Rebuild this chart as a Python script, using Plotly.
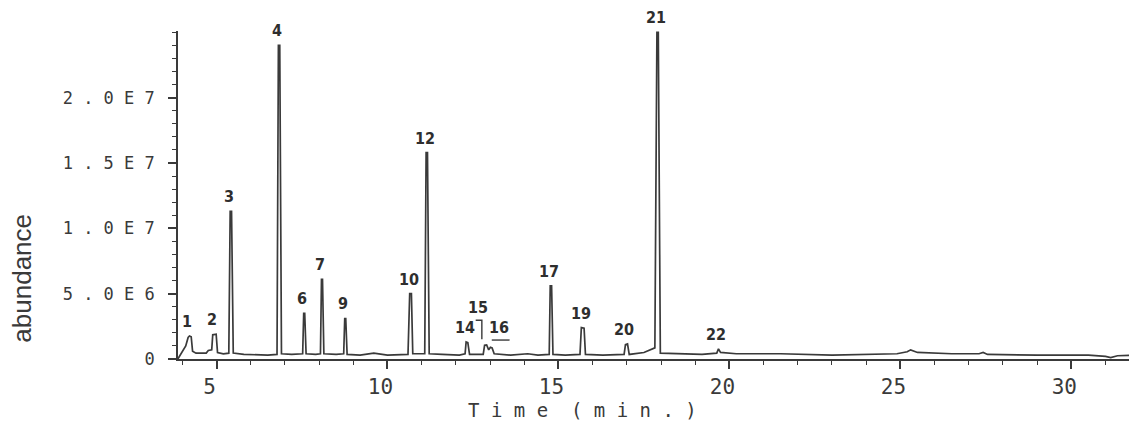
import plotly.graph_objects as go

# ---- data (time in min, abundance in units of 1E6) ----
time_min = [3.87, 4.10, 4.17, 4.21, 4.26, 4.30, 4.40, 4.70, 4.76, 4.86, 4.89, 4.99, 5.03,
            5.20, 5.36, 5.40, 5.44, 5.49, 5.80, 6.50, 6.77, 6.81, 6.85, 6.90, 7.20,
            7.52, 7.55, 7.58, 7.62, 7.90, 8.04, 8.07, 8.10, 8.14, 8.50, 8.72, 8.75,
            8.78, 8.82, 9.20, 9.60, 10.00, 10.60, 10.65, 10.70, 10.74, 11.09, 11.13,
            11.17, 11.22, 11.60, 12.10, 12.27, 12.30, 12.35, 12.40, 12.80, 12.84,
            12.90, 12.96, 13.01, 13.06, 13.12, 13.60, 14.10, 14.40, 14.73, 14.76,
            14.80, 14.84, 15.20, 15.63, 15.67, 15.75, 15.79, 16.30, 16.92, 16.96,
            17.02, 17.07, 17.50, 17.72, 17.82, 17.88, 17.92, 17.98, 18.40, 19.20,
            19.63, 19.68, 19.74, 20.20, 21.50, 23.00, 24.90, 25.20, 25.30, 25.50,
            26.50, 27.30, 27.42, 27.55, 29.00, 30.50, 31.00, 31.15, 31.35, 31.92]
abundance_e6 = [0.0, 1.0, 1.65, 1.76, 1.70, 0.60, 0.45, 0.45, 0.65, 0.70, 1.85, 1.90, 0.50,
                0.40, 0.45, 11.3, 11.3, 0.45, 0.35, 0.30, 0.35, 24.0, 24.0, 0.40, 0.35,
                0.40, 3.5, 3.5, 0.40, 0.35, 0.40, 6.1, 6.1, 0.40, 0.35, 0.40, 3.1,
                3.1, 0.35, 0.30, 0.45, 0.30, 0.35, 5.0, 5.0, 0.40, 0.40, 15.8,
                15.8, 0.40, 0.35, 0.30, 0.40, 1.30, 1.25, 0.35, 0.35, 1.05,
                1.07, 0.70, 0.90, 0.85, 0.40, 0.30, 0.40, 0.30, 0.35, 5.6,
                5.6, 0.35, 0.30, 0.35, 2.4, 2.35, 0.35, 0.30, 0.35, 1.10,
                1.15, 0.35, 0.50, 0.70, 0.85, 25.0, 25.0, 0.45, 0.40, 0.35,
                0.45, 0.77, 0.50, 0.40, 0.40, 0.30, 0.40, 0.55, 0.70, 0.50,
                0.40, 0.40, 0.50, 0.35, 0.30, 0.30, 0.20, 0.10, 0.25, 0.30]

peak_ids = ["1", "2", "3", "4", "6", "7", "9", "10", "12", "14", "15", "16",
            "17", "19", "20", "21", "22"]
peak_times = [4.21, 4.94, 5.42, 6.83, 7.56, 8.08, 8.76, 10.68, 11.15, 12.32, 12.88,
              13.05, 14.78, 15.71, 16.99, 17.90, 19.68]
peak_heights = [1.76, 1.90, 11.3, 24.0, 3.5, 6.1, 3.1, 5.0, 15.8, 1.3, 1.07, 0.9,
                5.6, 2.4, 1.15, 25.0, 0.77]

x_tick_vals = [5, 10, 15, 20, 25, 30]
x_tick_text = ["5", "10", "15", "20", "25", "30"]
y_tick_vals = [0, 5, 10, 15, 20]
y_tick_text = ["0", "5 . 0 E 6", "1 . 0 E 7", "1 . 5 E 7", "2 . 0 E 7"]

INK = "#3a3a3a"
MONO = "DejaVu Sans Mono, monospace"
HAND = "Liberation Sans Narrow, DejaVu Sans Condensed, sans-serif"

fig = go.Figure()
fig.add_trace(go.Scatter(x=time_min, y=abundance_e6, mode="lines",
                         line=dict(color=INK, width=1.7), hoverinfo="skip",
                         showlegend=False))

annotations = []
for pid, t, h in zip(peak_ids, peak_times, peak_heights):
    xs, ys = -2, 3
    if pid == "15":
        xs, ys = -8, 26
    elif pid == "16":
        xs, ys = 7, 8
    annotations.append(dict(x=t, y=h, text=f"<b>{pid}</b>", showarrow=False,
                            xanchor="center", yanchor="bottom", xshift=xs, yshift=ys,
                            font=dict(family=HAND, size=16, color="#2e2e2e")))

# leader bracket for peak 15 and underline for 16
i15 = peak_ids.index("15")
i16 = peak_ids.index("16")
t15, h15 = peak_times[i15], peak_heights[i15]
t16, h16 = peak_times[i16], peak_heights[i16]
shapes = [
    dict(type="path", xref="x", yref="y",
         path=f"M {t15-0.30} {h15+1.9} L {t15-0.12} {h15+1.9} L {t15-0.12} {h15+0.45}",
         line=dict(color=INK, width=1.4)),
    dict(type="line", xref="x", yref="y", x0=t16, x1=t16 + 0.52, y0=h16 + 0.55,
         y1=h16 + 0.55, line=dict(color=INK, width=1.4)),
]

annotations.append(dict(xref="paper", yref="paper", x=0.4223, y=-0.156,
                        text="T i m e  ( m i n . )", showarrow=False,
                        xanchor="center", yanchor="middle",
                        font=dict(family=MONO, size=19, color=INK)))
annotations.append(dict(xref="paper", yref="paper", x=-0.163, y=0.247,
                        text="abundance", showarrow=False, textangle=-90,
                        xanchor="center", yanchor="middle",
                        font=dict(family="Liberation Sans, Arial, sans-serif",
                                  size=26, color=INK)))

# the page body adds an 8px margin, so the figure is sized to fit inside it
fig.update_layout(
    width=1129, height=416, autosize=False,
    margin=dict(l=170, r=0, t=23, b=65),
    paper_bgcolor="white", plot_bgcolor="white",
    annotations=annotations, shapes=shapes,
    xaxis=dict(range=[3.874, 31.92], showgrid=False, zeroline=False,
               showline=True, linecolor=INK, linewidth=1.6,
               ticks="outside", ticklen=8, tickwidth=1.5, tickcolor=INK,
               tickvals=x_tick_vals, ticktext=x_tick_text,
               tickfont=dict(family=MONO, size=21, color=INK),
               ticklabelstandoff=0, ticklabelshift=-7,
               minor=dict(dtick=1, tick0=0, ticks="outside", ticklen=4,
                          tickwidth=1.3, tickcolor=INK)),
    yaxis=dict(range=[0, 25.1], showgrid=False, zeroline=False,
               showline=True, linecolor=INK, linewidth=1.6,
               ticks="outside", ticklen=8, tickwidth=1.5, tickcolor=INK,
               tickvals=y_tick_vals, ticktext=y_tick_text,
               tickfont=dict(family=MONO, size=17, color=INK),
               ticklabelstandoff=10,
               minor=dict(dtick=1, tick0=0, ticks="outside", ticklen=4,
                          tickwidth=1.3, tickcolor=INK)),
)

fig.write_html("out.html")
